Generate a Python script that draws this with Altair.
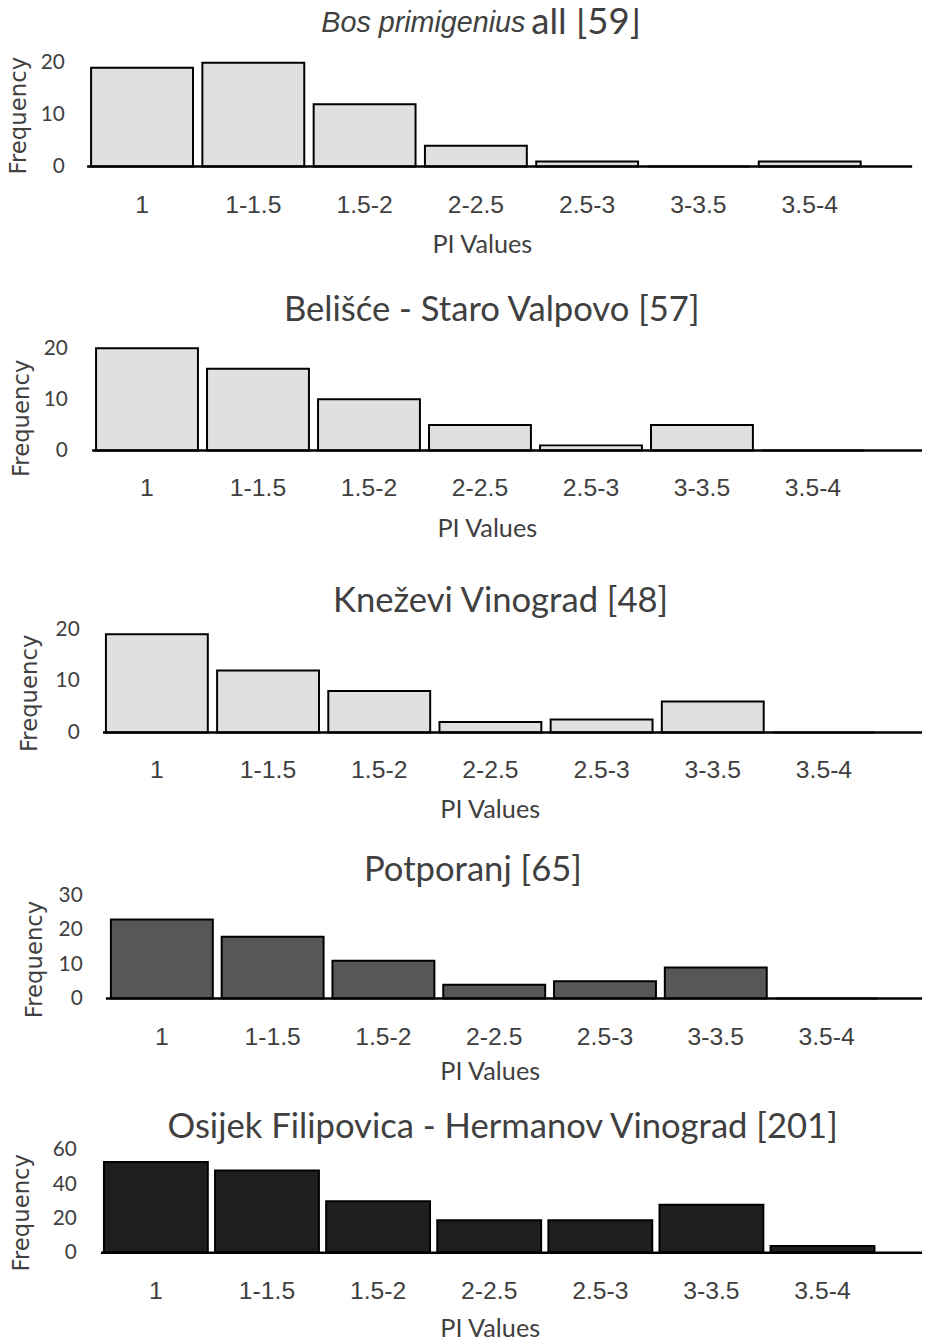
import altair as alt
import pandas as pd

# ---------------- data ----------------
categories = ["1", "1-1.5", "1.5-2", "2-2.5", "2.5-3", "3-3.5", "3.5-4"]
panel_titles = [
    "Bos primigenius all [59]",
    "Belišće - Staro Valpovo [57]",
    "Kneževi Vinograd [48]",
    "Potporanj [65]",
    "Osijek Filipovica - Hermanov Vinograd [201]",
]
freq_bos = [19, 20, 12, 4, 1, 0, 1]
freq_belisce = [20, 16, 10, 5, 1, 5, 0]
freq_knezevi = [19, 12, 8, 2, 2.5, 6, 0]
freq_potporanj = [23, 18, 11, 4, 5, 9, 0]
freq_osijek = [53, 48, 30, 19, 19, 28, 4]
series = [freq_bos, freq_belisce, freq_knezevi, freq_potporanj, freq_osijek]
y_tick_values = [[0, 10, 20], [0, 10, 20], [0, 10, 20], [0, 10, 20, 30], [0, 20, 40, 60]]

# ---------------- styles / layout ----------------
fills = ["#e0e0e0", "#e0e0e0", "#e0e0e0", "#575757", "#1e1e1e"]
W = 844
heights = [124, 144, 142, 126, 114]
ymax = [23.6, 27.85, 27.2, 36.3, 65.8]
pad_inner = [0.0844, 0.082, 0.0836, 0.080, 0.065]
pad_outer = [0.2935, 0.302, 0.2965, 0.308, 0.2895]
band_align = [0.0606, 0.133, 0.285, 0.348, 0.261]
base_left = [0, 5, 16, 19, 14]
base_right = [W - 10, W, W, W, W]
ylab_pad = [23, 20, 8, 5, 11]
ytitle_x = [-69, -66, -58, -53, -66]
ytitle_y = [72, 111, 102, 86, 73]
xtitle_x = [399, 404, 407, 407, 407]
xtitle_y = [79, 79, 78, 74, 77]
title_dx = [0, -13, -4, -32, -2]
title_dy = [0, 37, 44, 31, 23]

TXT = "#404040"
one_row = pd.DataFrame({"z": [0]})
panels = []
for i in range(5):
    df = pd.DataFrame({"cat": categories, "freq": series[i]})
    yscale = alt.Scale(domain=[0, ymax[i]], nice=False)
    bars = alt.Chart(df).mark_bar(
        fill=fills[i], stroke="black", strokeWidth=2, opacity=1
    ).encode(
        x=alt.X(
            "cat:N",
            sort=categories,
            scale=alt.Scale(paddingInner=pad_inner[i], paddingOuter=pad_outer[i], align=band_align[i]),
            axis=alt.Axis(
                title="PI Values", domain=False, ticks=False, tickSize=0, labelAngle=0,
                labelFont="Liberation Sans", labelFontSize=25, labelColor=TXT,
                labelPadding=38, labelBaseline="middle",
                titleFont="Lato", titleFontSize=25.5, titleFontWeight="normal", titleColor=TXT,
                titleX=xtitle_x[i], titleY=xtitle_y[i], titleBaseline="middle",
            ),
        ),
        y=alt.Y(
            "freq:Q",
            scale=yscale,
            axis=alt.Axis(
                title="Frequency", values=y_tick_values[i], domain=False, ticks=False, grid=False,
                labelFont="Lato", labelFontSize=21, labelColor=TXT, labelPadding=ylab_pad[i],
                titleFont="DejaVu Sans", titleFontSize=23, titleFontWeight="normal", titleColor=TXT,
                titleX=ytitle_x[i], titleY=ytitle_y[i], titleAngle=-90,
                titleAlign="center", titleBaseline="middle",
            ),
        ),
    )
    rule = alt.Chart(one_row).mark_rule(color="black", strokeWidth=2.5).encode(
        y=alt.value(heights[i]),
        x=alt.value(base_left[i]),
        x2=alt.value(base_right[i]),
    )
    layers = [bars, rule]
    if i == 0:
        t_it = alt.Chart(one_row).mark_text(
            text="Bos primigenius", font="Liberation Sans", fontSize=29, fontStyle="italic",
            align="right", baseline="middle", color=TXT,
        ).encode(x=alt.value(443), y=alt.value(-21))
        t_rg = alt.Chart(one_row).mark_text(
            text="all [59]", font="Lato", fontSize=37,
            align="left", baseline="middle", color=TXT,
        ).encode(x=alt.value(449), y=alt.value(-21))
        layers += [t_it, t_rg]
        panel = alt.layer(*layers).properties(width=W, height=heights[i])
    else:
        panel = alt.layer(*layers).properties(
            width=W, height=heights[i],
            title=alt.TitleParams(
                text=panel_titles[i], font="Lato", fontSize=35, fontWeight="normal", color=TXT,
                anchor="middle", frame="group", baseline="middle", offset=0,
                dx=title_dx[i], dy=title_dy[i],
            ),
        )
    panels.append(panel)

chart = alt.vconcat(*panels, spacing=143, bounds="flush").properties(
    padding={"top": -11, "left": 0, "right": 0, "bottom": 0}
).configure_view(stroke=None)

chart.save("out.html", embed_options={"renderer": "svg", "actions": False})
